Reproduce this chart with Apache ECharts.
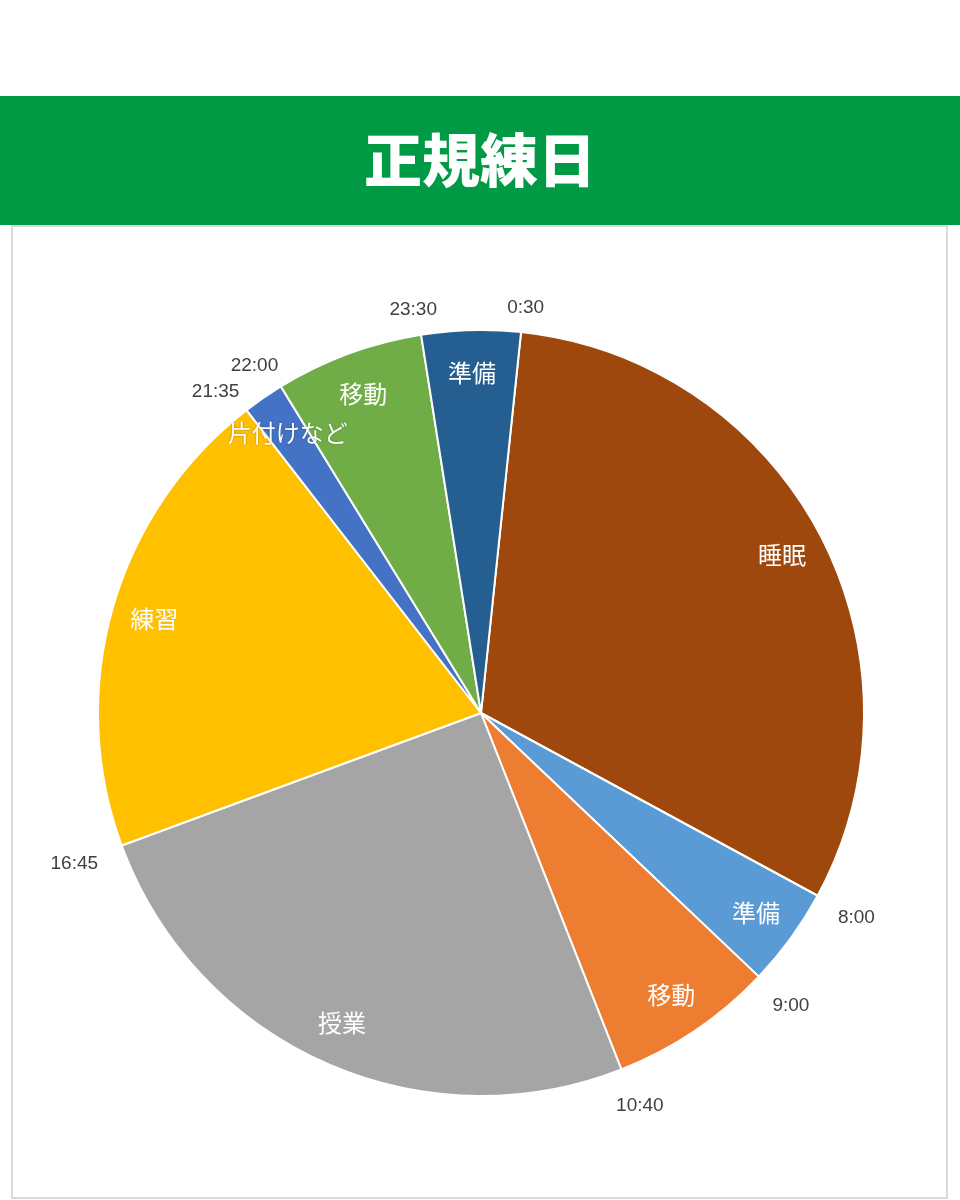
<!DOCTYPE html>
<html>
<head>
<meta charset="utf-8">
<script src="https://cdn.jsdelivr.net/npm/echarts@6/dist/echarts.min.js"></script>
<style>
  html, body { margin: 0; padding: 0; background: #ffffff; }
  #chart { width: 960px; height: 1200px; }
</style>
</head>
<body>
<div id="chart"></div>
<script>
// ---- data ----
const titleText = '正規練日';
const categories = ['睡眠', '準備', '移動', '授業', '練習', '片付けなど', '移動', '準備'];
const minutes = [450, 60, 100, 365, 290, 25, 90, 60];           // duration of each activity (min)
const boundaryLabels = ['0:30', '8:00', '9:00', '10:40', '16:45', '21:35', '22:00', '23:30']; // start time of each activity
const sliceColors = ['#9E480E', '#5B9BD5', '#ED7D31', '#A5A5A5', '#FFC000', '#4472C4', '#70AD47', '#255E91'];

// ---- style / layout ----
const firstSliceAngle = 6;          // degrees clockwise from 12 o'clock
const startAngle = 90 - firstSliceAngle;
const CENTER = [481, 713];
const R = 383;

const total = minutes.reduce((a, b) => a + b, 0);
function boundaryAngle(i) {          // radians, clockwise from top, of the start of slice i
  let s = 0;
  for (let k = 0; k < i; k++) s += minutes[k];
  return (firstSliceAngle + s / total * 360) * Math.PI / 180;
}

const mainData = categories.map((c, i) => ({
  name: c, value: minutes[i], itemStyle: { color: sliceColors[i] }
}));
const labelData = categories.map((c, i) => ({
  name: c, value: minutes[i],
  label: i === 5 ? { textShadowColor: 'rgba(0,0,0,0.35)', textShadowBlur: 2 } : {}
}));
const boundaryData = [];
boundaryLabels.forEach((t, i) => {
  boundaryData.push({ name: t, value: 0, label: { show: true } });
  boundaryData.push({ name: 'gap' + i, value: minutes[i], label: { show: false } });
});

const chart = echarts.init(document.getElementById('chart'), null, { renderer: 'canvas' });
chart.setOption({
  animation: false,
  backgroundColor: '#ffffff',
  graphic: [
    { type: 'rect', shape: { x: 0, y: 96, width: 960, height: 129 }, style: { fill: '#009A44' }, z: 0 },
    { type: 'text', x: 480, y: 160, style: {
        text: titleText, fill: '#ffffff', font: '900 58px "Noto Sans CJK JP"',
        textAlign: 'center', textVerticalAlign: 'middle' }, z: 1 },
    { type: 'rect', shape: { x: 12, y: 226, width: 935, height: 972 },
      style: { fill: 'none', stroke: '#D9D9D9', lineWidth: 2 }, z: 0 }
  ],
  series: [
    {
      type: 'pie', center: CENTER, radius: R, startAngle: startAngle, clockwise: true,
      silent: true, data: mainData,
      itemStyle: { borderColor: '#ffffff', borderWidth: 2 },
      label: { show: false }, labelLine: { show: false }, z: 2
    },
    {
      type: 'pie', center: CENTER, radius: [291, R], startAngle: startAngle, clockwise: true,
      silent: true, data: labelData, avoidLabelOverlap: false,
      itemStyle: { color: 'rgba(0,0,0,0)', borderWidth: 0 },
      label: { show: true, position: 'inside', color: '#ffffff', fontSize: 24,
        fontFamily: '"Noto Sans CJK JP"', overflow: 'none', formatter: '{b}' },
      labelLine: { show: false }, z: 3
    },
    {
      type: 'pie', center: CENTER, radius: [401, 403], startAngle: startAngle, clockwise: true,
      silent: true, data: boundaryData, avoidLabelOverlap: false,
      itemStyle: { color: 'rgba(0,0,0,0)', borderWidth: 0 },
      label: { position: 'inside', color: '#404040', fontSize: 19,
        fontFamily: '"Liberation Sans", Arial, sans-serif', overflow: 'none', formatter: '{b}' },
      labelLine: { show: false }, z: 3,
      // push each time label outward so that its box sits just outside the ring
      labelLayout: function (p) {
        if (p.dataIndex % 2 !== 0) return {};
        const th = boundaryAngle(p.dataIndex / 2);
        return {
          dx: 0.6 * p.labelRect.width * Math.sin(th),
          dy: -10 * Math.cos(th) + 7
        };
      }
    }
  ]
});
</script>
</body>
</html>
